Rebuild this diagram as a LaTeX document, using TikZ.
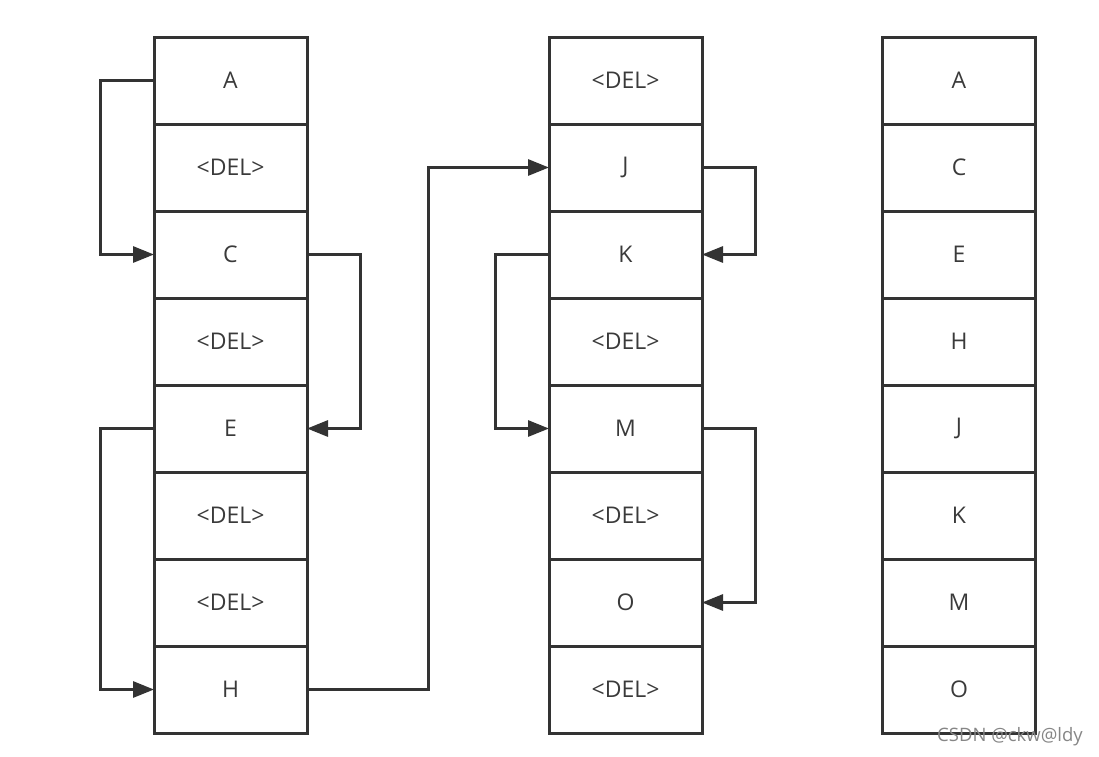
\documentclass[tikz,border=0pt]{standalone}
\usepackage{fontspec}
\setmainfont{Open Sans}
\usetikzlibrary{arrows.meta}
\definecolor{ln}{HTML}{333333}
\definecolor{tx}{HTML}{3a3a3a}
\tikzset{
  cell/.style={draw=ln, line width=3pt, minimum width=153pt, minimum height=87pt,
    inner sep=0pt, outer sep=0pt, text=tx, font=\fontsize{23}{25}\selectfont},
  conn/.style={draw=ln, line width=3pt, line join=miter,
    -{Triangle[length=21pt,width=16pt]}},
}
\begin{document}
\begin{tikzpicture}[x=1pt,y=-1pt]
\useasboundingbox (0,0) rectangle (1099,756);
% left column
\foreach \i/\t in {1/A,2/<DEL>,3/C,4/<DEL>,5/E,6/<DEL>,7/<DEL>,8/H}{
  \node[cell] (L\i) at (230.5,{37+87*(\i-0.5)}) {\t};
}
% middle column
\foreach \i/\t in {1/<DEL>,2/J,3/K,4/<DEL>,5/M,6/<DEL>,7/O,8/<DEL>}{
  \node[cell] (M\i) at (625.5,{37+87*(\i-0.5)}) {\t};
}
% right column
\foreach \i/\t in {1/A,2/C,3/E,4/H,5/J,6/K,7/M,8/O}{
  \node[cell] (R\i) at (959,{37+87*(\i-0.5)}) {\t};
}
% connectors
\draw[conn] (L1.west) -- ++(-54,0) |- (L3.west);
\draw[conn] (L3.east) -- ++(53,0) |- (L5.east);
\draw[conn] (L5.west) -- ++(-54,0) |- (L8.west);
\draw[conn] (L8.east) -- ++(121,0) |- (M2.west);
\draw[conn] (M2.east) -- ++(53,0) |- (M3.east);
\draw[conn] (M3.west) -- ++(-54,0) |- (M5.west);
\draw[conn] (M5.east) -- ++(53,0) |- (M7.east);
% watermark
\node[text=gray!95, font=\fontsize{18.5}{20}\selectfont, anchor=east, inner sep=0pt] (wm) at (1083,737) {CSDN @ckw@ldy};
\end{tikzpicture}
\end{document}
